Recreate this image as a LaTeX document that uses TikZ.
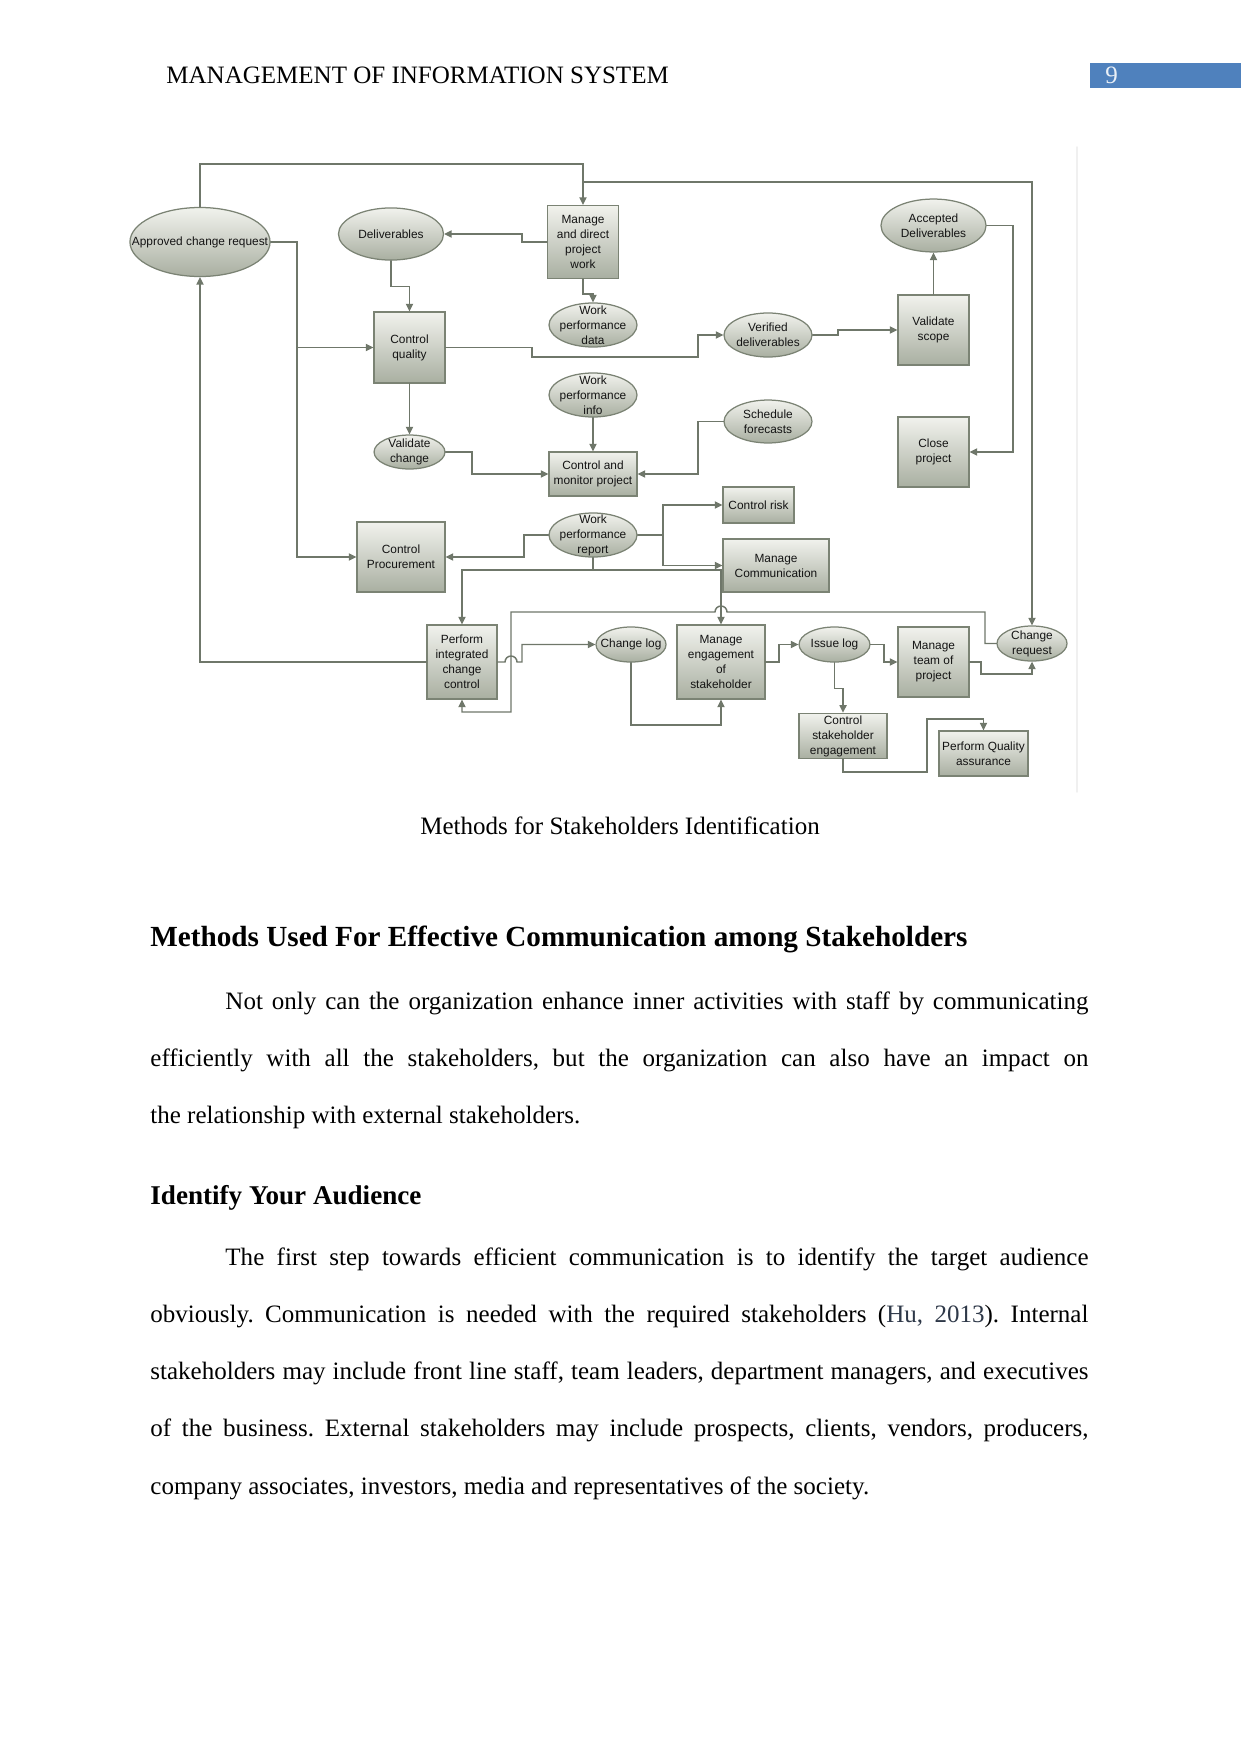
\documentclass[tikz,border=0pt]{standalone}
\usepackage{fontspec}
\setmainfont{Liberation Serif}
\newfontfamily\diagfont{Liberation Sans}
\usepackage{tikz}
\usetikzlibrary{arrows.meta,shapes.geometric,calc}
\usepackage{xcolor}
\definecolor{edgec}{HTML}{7B8374}
\definecolor{linec}{HTML}{6F776A}
\definecolor{shtop}{HTML}{F1F2ED}
\definecolor{shbot}{HTML}{A9AFA1}
\definecolor{pgblue}{HTML}{4F81BD}
\definecolor{citec}{HTML}{2E3848}
\frenchspacing

\begin{document}
\begin{tikzpicture}[x=0.4797pt,y=-0.4797pt,>={Triangle[length=3.6pt,width=3.4pt]},line cap=round,
  box/.style={draw=edgec,line width=0.6pt,top color=shtop,bottom color=shbot,inner sep=1pt,
    align=center,font=\diagfont\fontsize{5.7}{7.2}\selectfont,text=black!92},
  oval/.style={ellipse,draw=edgec,line width=0.6pt,top color=shtop,bottom color=shbot,inner sep=0pt},
  lbl/.style={font=\diagfont\fontsize{5.7}{7.2}\selectfont,align=center,inner sep=0pt,text=black!92},
  arr/.style={->,draw=linec,line width=0.7pt},
  body/.style={font=\fontsize{12}{27.5}\selectfont,text width=450pt,align=justify,inner sep=0pt}]
\useasboundingbox (0,0) rectangle (1241,1754);

% header
\node[anchor=base west,font=\fontsize{12}{14}\selectfont,inner sep=0pt] (hdr) at (166,84) {MANAGEMENT OF INFORMATION SYSTEM};
\node[fill=pgblue,anchor=north west,minimum width=72.4pt,minimum height=12pt,inner sep=0pt] (pgbox) at (1090,63) {};
\node[anchor=base west,font=\fontsize{12}{14}\selectfont,text=white!88!pgblue,inner sep=0pt] (pgno) at (1105,84) {9};

% boxes
\node[box,minimum width=34pt,minimum height=35pt] (mdw) at (583,242) {Manage\\and direct\\project\\work};
\node[box,minimum width=34pt,minimum height=34pt] (cq) at (409.5,347.5) {Control\\quality};
\node[box,minimum width=34pt,minimum height=33.6pt] (vs) at (933.5,330) {Validate\\scope};
\node[box,minimum width=42.2pt,minimum height=21.1pt] (cmp) at (593,474) {Control and\\monitor project};
\node[box,minimum width=34pt,minimum height=33.6pt] (cp) at (933.5,452) {Close\\project};
\node[box,minimum width=34pt,minimum height=17.3pt] (crisk) at (758.5,505) {Control risk};
\node[box,minimum width=42.2pt,minimum height=33.6pt] (cproc) at (401,557) {Control\\Procurement};
\node[box,minimum width=50.8pt,minimum height=25.4pt] (mcom) at (776,565.5) {Manage\\Communication};
\node[box,minimum width=33.6pt,minimum height=35.5pt] (picc) at (462,662) {Perform\\integrated\\change\\control};
\node[box,minimum width=42.2pt,minimum height=35.5pt] (meos) at (721,662) {Manage\\engagement\\of\\stakeholder};
\node[box,minimum width=34pt,minimum height=33.6pt] (mtp) at (933.5,662) {Manage\\team of\\project};
\node[box,minimum width=42.2pt,minimum height=21.1pt] (cse) at (843,736) {Control\\stakeholder\\engagement};
\node[box,minimum width=42.7pt,minimum height=21.6pt] (pqa) at (983.5,753.5) {Perform Quality\\assurance};

% ovals
\node[oval,minimum width=67.2pt,minimum height=33.1pt,label={[lbl]center:Approved change request}] (acr) at (200,242) {};
\node[oval,minimum width=50.4pt,minimum height=25pt,label={[lbl]center:Deliverables}] (deliv) at (391,234) {};
\node[oval,minimum width=50.4pt,minimum height=25.4pt,label={[lbl]center:Accepted\\Deliverables}] (acc) at (933.5,225.5) {};
\node[oval,minimum width=42.2pt,minimum height=21.1pt,label={[lbl]center:Work\\performance\\data}] (wpd) at (593,325) {};
\node[oval,minimum width=42.2pt,minimum height=21.1pt,label={[lbl]center:Verified\\deliverables}] (ver) at (768,335) {};
\node[oval,minimum width=42.2pt,minimum height=21.1pt,label={[lbl]center:Work\\performance\\info}] (wpi) at (593,395) {};
\node[oval,minimum width=42.2pt,minimum height=20.6pt,label={[lbl]center:Schedule\\forecasts}] (sf) at (768,421.5) {};
\node[oval,minimum width=34pt,minimum height=16.3pt,label={[lbl]center:Validate\\change}] (vc) at (409.5,452) {};
\node[oval,minimum width=42.2pt,minimum height=21.1pt,label={[lbl]center:Work\\performance\\report}] (wpr) at (593,535) {};
\node[oval,minimum width=33.6pt,minimum height=16.8pt,label={[lbl]center:Change log}] (clog) at (631,644.5) {};
\node[oval,minimum width=34pt,minimum height=16.8pt,label={[lbl]center:Issue log}] (ilog) at (834.5,644.5) {};
\node[oval,minimum width=33.6pt,minimum height=16.8pt,label={[lbl]center:Change\\request}] (creq) at (1032,643.5) {};

% connectors
\draw[arr] (acr.north) |- (mdw.north |- 0,164) -- (mdw.north);
\coordinate (topj) at (mdw.north |- 0,182);
\draw[arr] (topj) -| (creq.north);
\draw[arr] (acr.east) -| (297,557) -- (cproc.west);
\coordinate (qj) at (297,347.5);
\draw[arr] (qj) -- (cq.west);
\draw[arr] (mdw.west) -- ++(-25,0) |- (deliv.east);
\draw[arr] (mdw.south) -- ++(0,15) -| (wpd.north);
\draw[arr] (deliv.south) -- ++(0,26) -| (cq.north);
\draw[arr] (cq.east) -| (532,357) -| (698,335) -- (ver.west);
\draw[arr] (ver.east) -| (838,330) -- (vs.west);
\draw[arr] (vs.north) -- (acc.south);
\draw[arr] (acc.east) -| (1013,452) -- (cp.east);
\draw[arr] (cq.south) -- (vc.north);
\draw[arr] (vc.east) -| (472,474) -- (cmp.west);
\draw[arr] (wpi.south) -- (cmp.north);
\draw[arr] (sf.west) -| (698,474) -- (cmp.east);
\draw[arr] (wpr.east) -| (663,505) -- (crisk.west);
\coordinate (rj) at (663,535);
\draw[arr] (rj) |- (mcom.west);
\draw[arr] (wpr.west) -| (524,557) -- (cproc.east);
\draw[arr] (wpr.south) |- (picc.north |- 0,570) -- (picc.north);
\coordinate (bj) at (wpr.south |- 0,570);
\draw[arr] (bj) -| (meos.north);
\draw[arr] (creq.west) -| (985,612) -- ($(meos.north |- 0,612)+(6,0)$)
  arc[start angle=0,end angle=180,radius=2.88pt] -- (511,612) |- (picc.south |- 0,712) -- (picc.south);
\draw[arr] (picc.east) -- (505,662) arc[start angle=180,end angle=0,radius=2.88pt] -| (522,644.5) -- (clog.west);
\draw[arr] (clog.south) |- (meos.south |- 0,725) -- (meos.south);
\draw[arr] (meos.east) -| (779,644.5) -- (ilog.west);
\draw[arr] (ilog.east) -| (884,662) -- (mtp.west);
\draw[arr] (mtp.east) -| (981,674) -| (creq.south);
\draw[arr] (ilog.south) -- ++(0,26) -| (cse.north);
\draw[arr] (cse.south) |- (927,772) |- (pqa.north |- 0,719) -- (pqa.north);
\draw[arr] (picc.west) -| (acr.south);
\draw[gray!12,line width=0.8pt] (1077,147) -- (1077,792);

% text of the page
\node[anchor=base,font=\fontsize{12}{14}\selectfont,inner sep=0pt] (cap) at (620,834) {Methods for Stakeholders Identification};
\node[anchor=base west,font=\bfseries\fontsize{14}{16}\selectfont,inner sep=0pt] (h1) at (150,946) {Methods Used For Effective Communication among Stakeholders};
\node[body,anchor=base west] (p1) at (150,1009) {\hspace*{36pt}Not only can the organization enhance inner activities with staff by communicating\linebreak efficiently with all the stakeholders, but the organization can also have an impact on\linebreak the relationship with external stakeholders.};
\node[anchor=base west,font=\bfseries\fontsize{13}{15}\selectfont,inner sep=0pt] (h2) at (150,1204) {Identify Your Audience};
\node[body,anchor=base west] (p2) at (150,1265) {\hspace*{36pt}The first step towards efficient communication is to identify the target audience\linebreak obviously. Communication is needed with the required stakeholders ({\color{citec}Hu, 2013}). Internal\linebreak stakeholders may include front line staff, team leaders, department managers, and executives\linebreak of the business. External stakeholders may include prospects, clients, vendors, producers,\linebreak company associates, investors, media and representatives of the society.};
\end{tikzpicture}
\end{document}
